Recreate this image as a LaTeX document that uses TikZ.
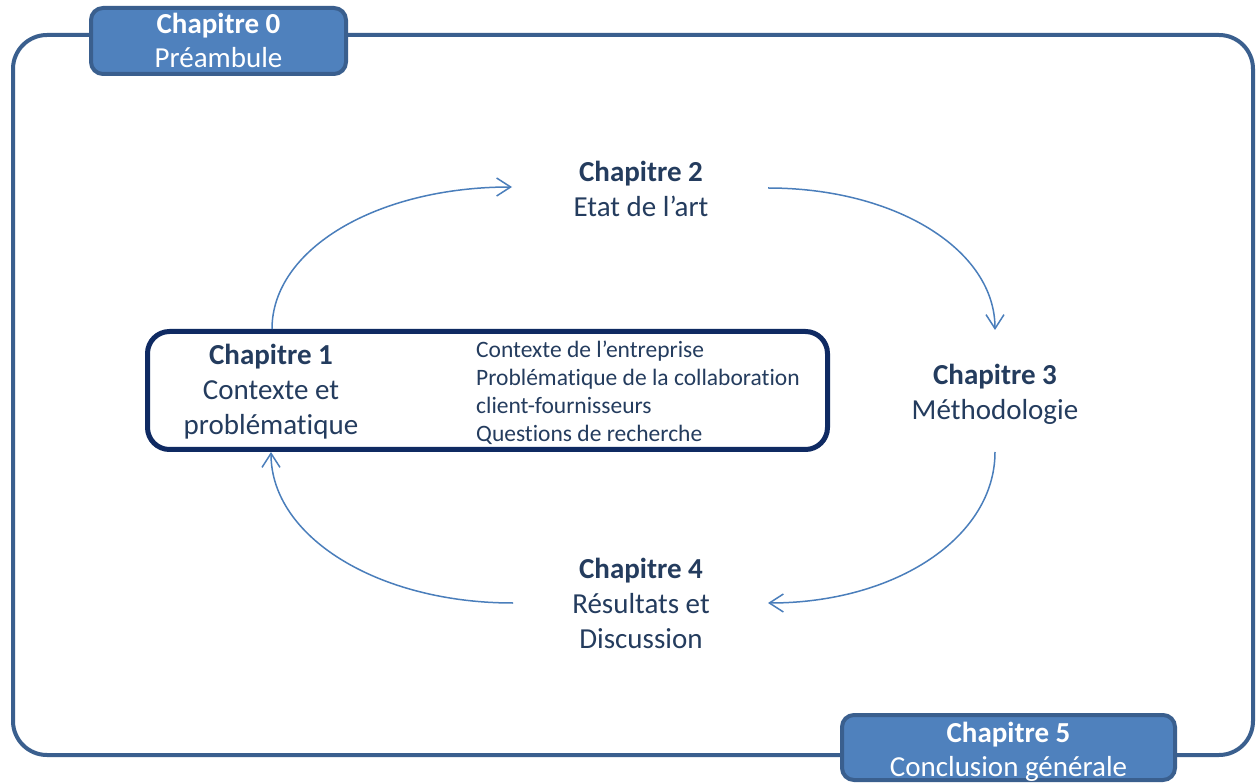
\documentclass[tikz,border=0pt]{standalone}
\usepackage{fontspec}
\setmainfont[Ligatures=NoCommon]{Carlito}
\usetikzlibrary{arrows.meta}
\definecolor{boxfill}{HTML}{4F81BD}
\definecolor{boxline}{HTML}{3A5F8E}
\definecolor{navy}{HTML}{0F2A62}
\definecolor{txt}{HTML}{243C5E}
\definecolor{arrowc}{HTML}{4A7EBB}
\begin{document}
\begin{tikzpicture}[x=1pt,y=-1pt,
  big/.style={font=\fontsize{29}{35}\selectfont, align=center, text=txt, inner sep=0pt},
  small/.style={font=\fontsize{23.5}{28}\selectfont, align=left, text=txt, inner sep=0pt},
  tab/.style={draw=boxline, fill=boxfill, line width=4pt, rounded corners=12pt, inner sep=0pt},
  tabtext/.style={text=white, font=\fontsize{29}{34}\selectfont, align=center, inner sep=0pt},
  frame/.style={draw=boxline, line width=4pt, rounded corners=34pt},
  mainbox/.style={draw=navy, fill=white, line width=5pt, rounded corners=22pt, inner sep=0pt},
  conn/.style={draw=arrowc, line width=1.5pt, -{Straight Barb[length=14pt,width=18pt,line width=1.5pt]}}]
\useasboundingbox (0,0) rectangle (1259,783);
\fill[white] (0,0) rectangle (1259,783);
% outer frame
\draw[frame] (13,35) rectangle (1253,755);
% tabs
\node[tab, minimum width=255pt, minimum height=66pt] (ch0) at (218.5,41) {};
\node[tabtext] (ch0t) at (218.5,40) {\textbf{Chapitre 0}\\Préambule};
\node[tab, minimum width=333pt, minimum height=65pt] (ch5) at (1008.5,747.5) {};
\node[tabtext] (ch5t) at (1008.5,752) {\textbf{Chapitre 5}\\Conclusion générale};
% chapter 1 box
\node[mainbox, minimum width=680pt, minimum height=118pt] (ch1) at (487.5,390.5) {};
\node[big] (ch1t) at (271,392) {\textbf{Chapitre 1}\\Contexte et\\problématique};
\node[small, anchor=west] (ch1l) at (476,393)
  {Contexte de l’entreprise\\Problématique de la collaboration\\client-fournisseurs\\Questions de recherche};
% other chapters
\node[big] (ch2) at (641,189) {\textbf{Chapitre 2}\\Etat de l’art};
\node[big] (ch3) at (995,394) {\textbf{Chapitre 3}\\Méthodologie};
\node[big] (ch4) at (641,603) {\textbf{Chapitre 4}\\Résultats et\\Discussion};
% connector ends
\coordinate (a1s) at (272,329);
\coordinate (a1e) at (512,187);
\coordinate (a2s) at (768,188);
\coordinate (a2e) at (995,330);
\coordinate (a3s) at (995,452);
\coordinate (a3e) at (768,603);
\coordinate (a4s) at (513,603);
\coordinate (a4e) at (271,452);
\draw[conn] (a1s) .. controls +(0,-80) and +(-135,0) .. (a1e);
\draw[conn] (a2s) .. controls +(128,0) and +(0,-80) .. (a2e);
\draw[conn] (a3s) .. controls +(0,85) and +(128,0) .. (a3e);
\draw[conn] (a4s) .. controls +(-135,0) and +(0,85) .. (a4e);
\end{tikzpicture}
\end{document}
